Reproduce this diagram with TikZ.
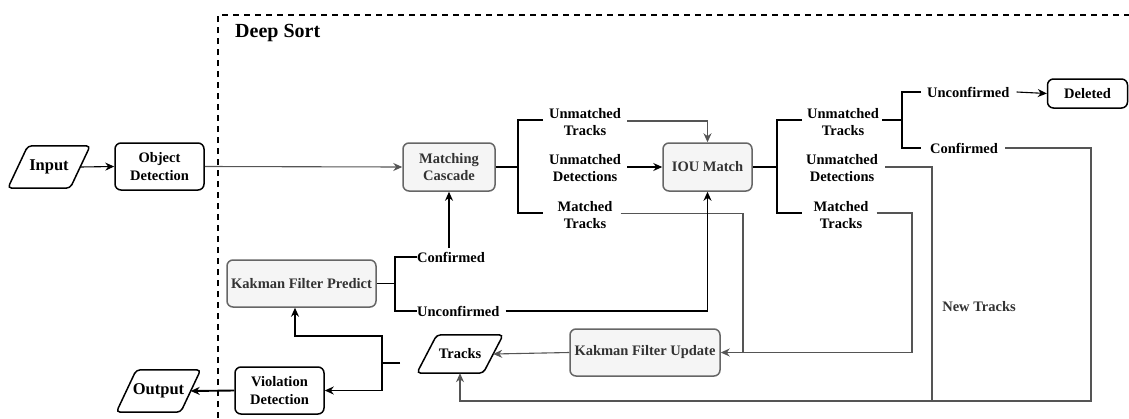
\documentclass[tikz,border=0pt]{standalone}
\usepackage{fontspec}
\setmainfont{Liberation Serif}
\usetikzlibrary{arrows.meta,calc}
\definecolor{boxfill}{HTML}{F5F5F5}
\definecolor{boxline}{HTML}{666666}
\definecolor{boxtext}{HTML}{333333}
\definecolor{thinline}{HTML}{555555}
\begin{document}
\begin{tikzpicture}[x=1pt,y=-1pt,
  lbl/.style={font=\fontsize{14.5}{17.5}\selectfont\bfseries, align=center, inner sep=0pt},
  blackbox/.style={lbl, draw=black, line width=1.5pt, rounded corners=6pt, fill=white},
  graybox/.style={lbl, draw=boxline, line width=1.5pt, rounded corners=6pt, fill=boxfill, text=boxtext},
  pgtext/.style={font=\fontsize{16.5}{19}\selectfont\bfseries, inner sep=0pt},
  pgline/.style={draw=black, line width=1.5pt, rounded corners=4pt},
  heavy/.style={draw=black, line width=1.9pt},
  medline/.style={draw=black, line width=1.1pt},
  lightline/.style={draw=thinline, line width=1.1pt},
  arr/.style={-{Stealth[length=9pt,width=8pt]}}
]
\useasboundingbox (0,0) rectangle (1129,418);

% frame
\draw[line width=1.6pt, dash pattern=on 6pt off 5pt] (218,418) -- (218,15) -- (1129,15);
\node[anchor=west, inner sep=0pt, font=\fontsize{20}{24}\selectfont\bfseries] (ds) at (235,33) {Deep Sort};

% parallelograms
\node[pgtext, minimum width=62, minimum height=42] (in) at (49,167) {Input};
\draw[pgline] ($(in.north west)+(10,0)$) -- ($(in.north east)+(10,0)$) -- ($(in.south east)+(-10,0)$) -- ($(in.south west)+(-10,0)$) -- cycle;
\node[pgtext, minimum width=64, minimum height=42] (out) at (158.5,391) {Output};
\draw[pgline] ($(out.north west)+(10,0)$) -- ($(out.north east)+(10,0)$) -- ($(out.south east)+(-10,0)$) -- ($(out.south west)+(-10,0)$) -- cycle;
\node[lbl, minimum width=66, minimum height=38] (tr) at (460,354) {Tracks};
\draw[pgline] ($(tr.north west)+(10,0)$) -- ($(tr.north east)+(10,0)$) -- ($(tr.south east)+(-10,0)$) -- ($(tr.south west)+(-10,0)$) -- cycle;

% boxes
\node[blackbox, minimum width=89, minimum height=47] (od) at (159.5,166.5) {Object\\Detection};
\node[blackbox, minimum width=89, minimum height=47] (vd) at (279.5,390.5) {Violation\\Detection};
\node[blackbox, minimum width=80, minimum height=29] (del) at (1087.5,93.5) {Deleted};
\node[graybox, minimum width=92, minimum height=48] (mc) at (449,167) {Matching\\Cascade};
\node[graybox, minimum width=89, minimum height=48] (iou) at (707.5,167) {IOU Match};
\node[graybox, minimum width=149, minimum height=47] (kfp) at (301.5,283.5) {Kakman Filter Predict};
\node[graybox, minimum width=150, minimum height=47] (kfu) at (645,352.5) {Kakman Filter Update};

% labels
\node[lbl] (ut1) at (585,122) {Unmatched\\Tracks};
\node[lbl] (ud1) at (585,168) {Unmatched\\Detections};
\node[lbl] (mt1) at (585,215) {Matched\\Tracks};
\node[lbl] (ut2) at (843,122) {Unmatched\\Tracks};
\node[lbl] (ud2) at (842,168) {Unmatched\\Detections};
\node[lbl] (mt2) at (841,215) {Matched\\Tracks};
\node[lbl, anchor=west] (uc2) at (927,92) {Unconfirmed};
\node[lbl, anchor=west] (cf2) at (930,148) {Confirmed};
\node[lbl, anchor=west] (cf1) at (417,257) {Confirmed};
\node[lbl, anchor=west] (uc1) at (417,311) {Unconfirmed};
\node[lbl, text=boxtext] (nt) at (979,307) {New Tracks};

% input chain
\draw[medline, arr] (in.east) -- (od.west);
\draw[lightline, arr] (od.east) -- (mc.west);

% matching cascade bracket
\draw[heavy] (mc.east) -- (518,167);
\draw[heavy] (543,120) -- (518,120) -- (518,213) -- (543,213);

\draw[lightline, arr] ([xshift=6pt]ut1.east |- 0,121) -| (iou.north);
\draw[medline, arr] ([xshift=6pt]ud1.east |- 0,167) -- (iou.west);
\coordinate (j1) at (743,352.5);
\coordinate (j2) at (912,352.5);
\draw[lightline] ([xshift=8pt]mt1.east |- 0,213.5) -| (j1);
\draw[lightline] ([xshift=8pt]mt2.east |- 0,213) -| (j2);
\draw[lightline, arr] (j2) -- (kfu.east);

% IOU bracket
\draw[heavy] (iou.east) -- (777,167);
\draw[heavy] (802,120) -- (777,120) -- (777,213) -- (802,213);
\draw[heavy] ([xshift=3pt]ut2.east |- 0,120) -- (902,120);
\draw[heavy] ([xshift=-6pt]uc2.west) -- (902,92) -- (902,148) -- ([xshift=-9pt]cf2.west);
\draw[medline, arr] ([xshift=7pt]uc2.east) -- (del.west);

% new tracks loop
\draw[lightline] ([xshift=7pt]ud2.east |- 0,167) -| (932,401);
\draw[lightline, arr] ([xshift=7pt]cf2.east) -| (1091,401) -| (tr.south);
\draw[lightline, arr] (kfu.west) -- (tr.east);

% predict bracket
\draw[heavy] (kfp.east) -- (395,283.5);
\draw[heavy] (cf1.west) -| (395,311) -- (uc1.west);
\coordinate (cfup) at (449,248);
\draw[heavy, arr] (cfup) -- (mc.south);
\draw[heavy, arr] ([xshift=6pt]uc1.east) -| (iou.south);

% tracks split
\coordinate (tk0) at (400,363);
\coordinate (sp) at (382,363);
\draw[heavy] (tk0) -- (sp);
\draw[heavy, arr] (sp) |- ($(kfp.south)+(-6.5,28)$) -- ($(kfp.south)+(-6.5,0)$);
\draw[heavy, arr] (sp) |- (vd.east);
\draw[heavy, arr] (vd.west) -- (out.east);
\end{tikzpicture}
\end{document}
